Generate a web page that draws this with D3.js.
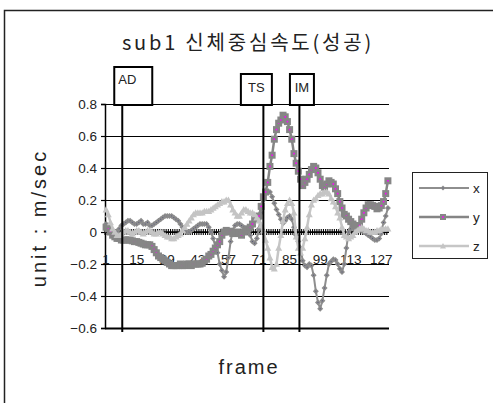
<!DOCTYPE html>
<html>
<head>
<meta charset="utf-8">
<script src="https://cdn.jsdelivr.net/npm/d3@7"></script>
<style>
  body { margin: 0; background: #fff; }
  svg { display: block; }
</style>
</head>
<body>
<svg id="chart" width="493" height="403"></svg>
<script>
// ---- data ----
const frames = d3.range(1, 131);
const seriesNames = ["x", "y", "z"];

const xValues = [
  0.05, 0.04, 0.02, 0.0, -0.01, 0.0, 0.02, 0.04, 0.05, 0.06,
  0.07, 0.07, 0.06, 0.05, 0.05, 0.06, 0.07, 0.05, 0.05, 0.06,
  0.04, 0.04, 0.05, 0.06, 0.07, 0.08, 0.09, 0.10, 0.10, 0.10,
  0.10, 0.09, 0.08, 0.07, 0.05, 0.03, 0.01, 0.0, 0.0, 0.01,
  0.02, 0.03, 0.04, 0.05, 0.05, 0.05, 0.05, 0.03, 0.0, -0.04,
  -0.09, -0.13, -0.20, -0.24, -0.28, -0.25, -0.16, -0.06, 0.01, 0.04,
  0.05, 0.05, 0.04, 0.03, 0.01, 0.02, -0.02, -0.06, -0.07, -0.04,
  0.02, 0.12, 0.20, 0.24, 0.25, 0.25, 0.22, 0.18, 0.14, 0.11,
  0.08, 0.055, 0.07, 0.09, 0.10, 0.08, 0.03, -0.02, -0.06, -0.10,
  -0.18, -0.21, -0.22, -0.20, -0.21, -0.27, -0.37, -0.44, -0.48, -0.43,
  -0.35, -0.27, -0.20, -0.185, -0.17, -0.175, -0.20, -0.23, -0.25, -0.20,
  -0.10, 0.0, 0.02, 0.03, 0.04, 0.03, 0.02, 0.01, 0.0, -0.01,
  -0.02, -0.03, -0.04, -0.05, -0.05, -0.04, -0.01, 0.06, 0.10, 0.15
];

const yValues = [
  0.03, 0.02, 0.0, -0.02, -0.03, -0.04, -0.04, -0.05, -0.05, -0.05,
  -0.05, -0.05, -0.055, -0.06, -0.06, -0.065, -0.07, -0.075, -0.08, -0.08,
  -0.08, -0.09, -0.11, -0.13, -0.15, -0.16, -0.17, -0.18, -0.19, -0.20,
  -0.21, -0.21, -0.21, -0.21, -0.20, -0.21, -0.21, -0.20, -0.20, -0.21,
  -0.20, -0.20, -0.20, -0.20, -0.195, -0.18, -0.17, -0.15, -0.14, -0.12,
  -0.10, -0.08, -0.06, -0.02, 0.0, 0.01, 0.0, 0.005, -0.01, -0.005,
  0.0, -0.01, -0.02, 0.0, 0.01, 0.02, 0.03, 0.05, 0.08, 0.09,
  0.10, 0.16, 0.22, 0.25, 0.31, 0.41, 0.48, 0.58, 0.64, 0.68,
  0.70, 0.73, 0.72, 0.69, 0.64, 0.58, 0.49, 0.43, 0.38, 0.33,
  0.29, 0.31, 0.33, 0.36, 0.39, 0.41, 0.40, 0.37, 0.33, 0.29,
  0.28, 0.30, 0.32, 0.31, 0.30, 0.27, 0.24, 0.19, 0.15, 0.11,
  0.10, 0.08, 0.065, 0.05, 0.04, 0.03, 0.04, 0.08, 0.12, 0.15,
  0.17, 0.17, 0.165, 0.16, 0.145, 0.15, 0.165, 0.19, 0.24, 0.32
];

const zValues = [
  0.14, 0.11, 0.06, 0.02, 0.0, -0.02, -0.02, -0.01, 0.0, 0.01,
  0.01, 0.0, -0.01, 0.0, 0.01, 0.01, 0.0, -0.01, 0.0, 0.01,
  0.01, 0.0, -0.01, -0.01, 0.0, 0.0, -0.01, -0.02, -0.03, -0.03,
  -0.04, -0.04, -0.03, -0.02, -0.01, 0.01, 0.03, 0.05, 0.07, 0.09,
  0.11, 0.12, 0.12, 0.12, 0.12, 0.13, 0.13, 0.13, 0.14, 0.15,
  0.16, 0.17, 0.18, 0.19, 0.19, 0.20, 0.20, 0.17, 0.14, 0.12,
  0.10, 0.10, 0.12, 0.14, 0.14, 0.13, 0.12, 0.12, 0.11, 0.09,
  0.07, 0.04, 0.01, -0.05, -0.10, -0.16, -0.22, -0.23, -0.20, -0.10,
  -0.02, 0.07, 0.14, 0.18, 0.20, 0.18, 0.12, -0.03, -0.10, -0.13,
  -0.10, -0.04, 0.03, 0.11, 0.17, 0.20, 0.21, 0.23, 0.24, 0.24,
  0.25, 0.25, 0.24, 0.21, 0.19, 0.16, 0.12, 0.09, 0.03, -0.02,
  -0.03, -0.04, -0.03, -0.02, 0.0, 0.01, 0.02, 0.03, 0.02, 0.01,
  0.01, 0.0, 0.0, 0.0, 0.01, 0.01, 0.02, 0.02, 0.02, 0.02
];

const frameTickLabels = [1, 15, 29, 43, 57, 71, 85, 99, 113, 127];
const valueTicks = [0.8, 0.6, 0.4, 0.2, 0, -0.2, -0.4, -0.6];
const eventLabels = ["AD", "TS", "IM"];
const eventFrames = [8.4, 73, 89.5];

const titleText = "sub1 신체중심속도(성공)";
const yTitleText = "unit : m/sec";
const xTitleText = "frame";

// ---- layout & style ----
const plot = { left: 105, right: 389, top: 104, bottom: 328 };
const seriesStyle = {
  x: { line: "#8e8e8e", width: 2, marker: "diamond", fill: "#8c8c8c", dot: "#55557a", dotSize: 1, size: 6 },
  y: { line: "#858585", width: 2.5, marker: "square", fill: "#868686", dot: "#ff00ff", dotSize: 1.6, size: 7 },
  z: { line: "#c6c6c6", width: 2.5, marker: "triangle", fill: "#c4c4c4", dot: null, dotSize: 0, size: 7 }
};
const eventBoxes = {
  AD: { dx: -8, width: 38, top: 67, textX: 4, textY: 17, anchor: "start" },
  TS: { dx: -22.5, width: 31, top: 74, textX: 15.5, textY: 17.5, anchor: "middle" },
  IM: { dx: -9.5, width: 24, top: 74, textX: 12, textY: 17.5, anchor: "middle" }
};
const fontLatin = "'Liberation Sans', Arial, sans-serif";
const fontKr = "'Noto Sans CJK KR', 'Liberation Sans', sans-serif";

const svg = d3.select("#chart");

// outer chart frame
svg.append("rect")
  .attr("x", 4.5).attr("y", 10.5)
  .attr("width", 520).attr("height", 420)
  .attr("fill", "#fff").attr("stroke", "#222").attr("stroke-width", 1.5);

// scales
const xBand = d3.scaleBand().domain(frames).range([plot.left, plot.right]).padding(0);
const xPos = d3.scaleLinear().domain([0.5, frames.length + 0.5]).range([plot.left, plot.right]);
const yScale = d3.scaleLinear().domain([-0.6, 0.8]).range([plot.bottom, plot.top]);
const cx = f => xBand(f) + xBand.bandwidth() / 2;

// horizontal gridlines
svg.append("g")
  .selectAll("line")
  .data(valueTicks)
  .join("line")
  .attr("x1", plot.left).attr("x2", plot.right)
  .attr("y1", d => Math.round(yScale(d)) + 0.5)
  .attr("y2", d => Math.round(yScale(d)) + 0.5)
  .attr("stroke", "#000")
  .attr("stroke-width", d => d === -0.6 ? 2 : 1.2);

// value axis
const yAxis = d3.axisLeft(yScale)
  .tickValues(valueTicks)
  .tickSize(4);
const gy = svg.append("g")
  .attr("transform", `translate(${plot.left},0)`)
  .call(yAxis);
gy.select(".domain").attr("stroke", "#000").attr("stroke-width", 1.5);
gy.selectAll(".tick line").attr("stroke", "#000").attr("stroke-width", 1.2);
gy.selectAll(".tick text")
  .attr("x", -8)
  .attr("font-family", fontLatin)
  .attr("font-size", 13.5)
  .attr("fill", "#222")
  .text(d => d === 0 ? "0" : d3.format(".1f")(d).replace("-", "−"));

// category axis crossing at zero, with a tick at every frame boundary
const y0 = yScale(0);
const gx = svg.append("g");
gx.append("line")
  .attr("x1", plot.left).attr("x2", plot.right)
  .attr("y1", y0).attr("y2", y0)
  .attr("stroke", "#000").attr("stroke-width", 1.5);
gx.selectAll("line.tick")
  .data(frames)
  .join("line")
  .attr("class", "tick")
  .attr("x1", d => xBand(d)).attr("x2", d => xBand(d))
  .attr("y1", y0 - 3).attr("y2", y0 + 3)
  .attr("stroke", "#000").attr("stroke-width", 1.1);
gx.selectAll("text")
  .data(frameTickLabels)
  .join("text")
  .attr("x", d => cx(d))
  .attr("y", 264)
  .attr("text-anchor", "middle")
  .attr("font-family", fontLatin)
  .attr("font-size", 13.5)
  .attr("fill", "#222")
  .text(d => d);

// series
const seriesData = { x: xValues, y: yValues, z: zValues };

function markerPath(kind, s) {
  const h = s / 2;
  if (kind === "diamond") return `M0,${-h}L${h},0L0,${h}L${-h},0Z`;
  if (kind === "triangle") return `M0,${-h}L${h},${h * 0.8}L${-h},${h * 0.8}Z`;
  return `M${-h},${-h}H${h}V${h}H${-h}Z`;
}

const lineGen = d3.line().x(d => cx(d.f)).y(d => yScale(d.v));

seriesNames.forEach(name => {
  const st = seriesStyle[name];
  const pts = frames.map((f, i) => ({ f, v: seriesData[name][i] }));
  const g = svg.append("g").attr("class", "series-" + name);
  g.append("path")
    .attr("d", lineGen(pts))
    .attr("fill", "none")
    .attr("stroke", st.line)
    .attr("stroke-width", st.width)
    .attr("stroke-linejoin", "round");
  const m = g.selectAll("g.mk")
    .data(pts)
    .join("g")
    .attr("class", "mk")
    .attr("transform", d => `translate(${cx(d.f)},${yScale(d.v)})`);
  m.append("path")
    .attr("d", markerPath(st.marker, st.size))
    .attr("fill", st.fill);
  if (st.dot) {
    m.append("rect")
      .attr("x", -st.dotSize / 2).attr("y", -st.dotSize / 2)
      .attr("width", st.dotSize).attr("height", st.dotSize)
      .attr("fill", st.dot);
  }
});

// event markers: labelled boxes with a vertical line through the plot
const ev = svg.append("g");
eventLabels.forEach((lab, i) => {
  const bx = eventBoxes[lab];
  const lx = xPos(eventFrames[i]);
  ev.append("line")
    .attr("x1", lx).attr("x2", lx)
    .attr("y1", plot.top).attr("y2", 332)
    .attr("stroke", "#000").attr("stroke-width", 2);
  const left = lx + bx.dx;
  const h = plot.top - bx.top + 1;
  ev.append("rect")
    .attr("x", left).attr("y", bx.top)
    .attr("width", bx.width).attr("height", h)
    .attr("fill", "#fff").attr("stroke", "#000").attr("stroke-width", 2);
  ev.append("text")
    .attr("x", left + bx.textX).attr("y", bx.top + bx.textY)
    .attr("text-anchor", bx.anchor)
    .attr("font-family", fontLatin)
    .attr("font-size", 13)
    .attr("fill", "#222")
    .text(lab);
});

// titles
svg.append("text")
  .attr("x", 248).attr("y", 50)
  .attr("text-anchor", "middle")
  .attr("font-family", fontKr)
  .attr("font-size", 20)
  .attr("letter-spacing", 2.8)
  .attr("fill", "#222")
  .text(titleText);

svg.append("text")
  .attr("transform", "translate(46,218) rotate(-90)")
  .attr("text-anchor", "middle")
  .attr("font-family", fontLatin)
  .attr("font-size", 20)
  .attr("letter-spacing", 3)
  .attr("fill", "#222")
  .text(yTitleText);

svg.append("text")
  .attr("x", 249).attr("y", 374)
  .attr("text-anchor", "middle")
  .attr("font-family", fontLatin)
  .attr("font-size", 20)
  .attr("letter-spacing", 2)
  .attr("fill", "#222")
  .text(xTitleText);

// legend
const lg = svg.append("g");
lg.append("rect")
  .attr("x", 412.5).attr("y", 172.5).attr("width", 75).attr("height", 86)
  .attr("fill", "#fff").attr("stroke", "#222").attr("stroke-width", 1);
const legendY = d3.scalePoint().domain(seriesNames).range([188, 246]);
seriesNames.forEach(name => {
  const st = seriesStyle[name];
  const ly = legendY(name);
  lg.append("line")
    .attr("x1", 419).attr("x2", 469).attr("y1", ly).attr("y2", ly)
    .attr("stroke", st.line).attr("stroke-width", st.width);
  const mk = lg.append("g").attr("transform", `translate(443,${ly})`);
  mk.append("path").attr("d", markerPath(st.marker, st.size - 1)).attr("fill", st.fill);
  if (st.dot) {
    mk.append("rect")
      .attr("x", -st.dotSize / 2).attr("y", -st.dotSize / 2)
      .attr("width", st.dotSize).attr("height", st.dotSize)
      .attr("fill", st.dot);
  }
  lg.append("text")
    .attr("x", 473).attr("y", ly)
    .attr("dy", "0.35em")
    .attr("font-family", fontLatin)
    .attr("font-size", 13.5)
    .attr("fill", "#222")
    .text(name);
});
</script>
</body>
</html>
